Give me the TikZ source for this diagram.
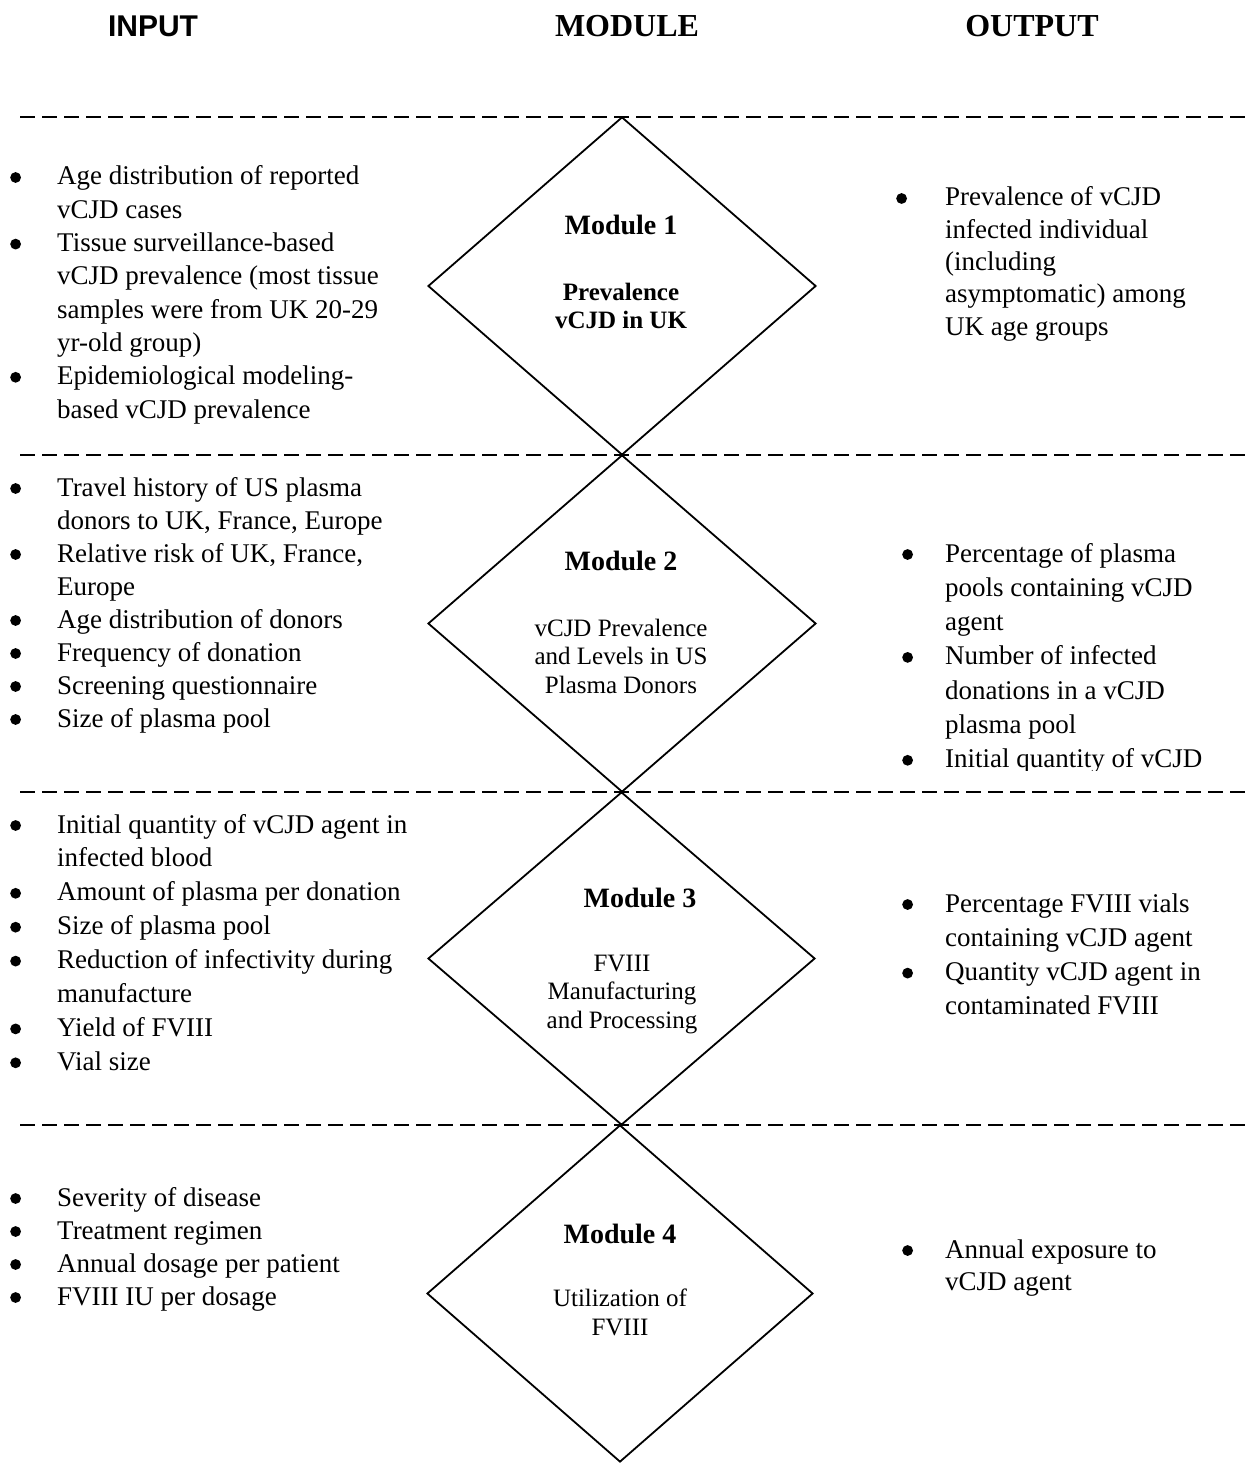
\documentclass[tikz,border=0pt]{standalone}
\usepackage{fontspec}
\setmainfont{Liberation Serif}
\newfontfamily\headsans{Liberation Sans}
\usepackage{array}
\usetikzlibrary{shapes.geometric}
\newcommand{\itm}{\tikz[baseline=-7.5pt]\fill (0,0) circle (5.4pt); &}

\begin{document}
\begin{tikzpicture}[x=1pt, y=-1pt,
    sepline/.style={line width=1.8pt, dash pattern=on 15pt off 7pt},
    module/.style={draw, diamond, line width=1.8pt, inner sep=0pt, minimum width=388pt},
    head/.style={anchor=base, inner sep=0pt, font=\bfseries\fontsize{32}{32}\selectfont},
    modtitle/.style={anchor=base, inner sep=0pt, font=\bfseries\fontsize{28}{28}\selectfont},
    modtext/.style={anchor=base, inner sep=0pt, align=center, font=\fontsize{25}{28.5}\selectfont},
    itemlist/.style={anchor=base west, inner sep=0pt, font=\fontsize{27}{33.3}\selectfont}]
    \useasboundingbox (0,0) rectangle (1246,1463);

    \node [head, font=\headsans\bfseries\fontsize{30}{30}\selectfont] (hin) at (153,37) {INPUT};
    \node [head] (hmod) at (627,37) {MODULE};
    \node [head] (hout) at (1032,37) {OUTPUT};

    \foreach \y in {117,455,792,1125}
      \draw [sepline] (20,\y) -- (1246,\y);

    \node [module, minimum height=338pt] (m1) at (622,286) {};
    \node [module, minimum height=337pt] (m2) at (622,623.5) {};
    \node [module, minimum height=333pt, minimum width=387pt] (m3) at (621.5,958.5) {};
    \node [module, minimum height=337pt, minimum width=386pt] (m4) at (620,1293.5) {};

    % base of a multi-line text = its last line
    \node [modtitle] (t1) at (621,235) {Module 1};
    \node [modtext, font=\bfseries\fontsize{25}{28}\selectfont] (s1) at (621,328) {Prevalence\\vCJD in UK};
    \node [modtitle] (t2) at (621,570) {Module 2};
    \node [modtext] (s2) at (621,693) {vCJD Prevalence\\and Levels in US\\Plasma Donors};
    \node [modtitle] (t3) at (640,907) {Module 3};
    \node [modtext] (s3) at (622,1028) {FVIII\\Manufacturing\\and Processing};
    \node [modtitle] (t4) at (620,1243) {Module 4};
    \node [modtext] (s4) at (620,1335) {Utilization of\\FVIII};

    % inputs
    \node [itemlist] (in1) at (10,185) {\begin{tabular}[t]{@{}p{47pt}@{}l@{}}
      \itm Age distribution of reported\\
      & vCJD cases\\
      \itm Tissue surveillance-based\\
      & vCJD prevalence (most tissue\\
      & samples were from UK 20-29\\
      & yr-old group)\\
      \itm Epidemiological modeling-\\
      & based vCJD prevalence
    \end{tabular}};
    \node [itemlist, font=\fontsize{27}{33}\selectfont] (in2) at (10,496) {\begin{tabular}[t]{@{}p{47pt}@{}l@{}}
      \itm Travel history of US plasma\\
      & donors to UK, France, Europe\\
      \itm Relative risk of UK, France,\\
      & Europe\\
      \itm Age distribution of donors\\
      \itm Frequency of donation\\
      \itm Screening questionnaire\\
      \itm Size of plasma pool
    \end{tabular}};
    \node [itemlist, font=\fontsize{27}{33.9}\selectfont] (in3) at (10,833) {\begin{tabular}[t]{@{}p{47pt}@{}l@{}}
      \itm Initial quantity of vCJD agent in\\
      & infected blood\\
      \itm Amount of plasma per donation\\
      \itm Size of plasma pool\\
      \itm Reduction of infectivity during\\
      & manufacture\\
      \itm Yield of FVIII\\
      \itm Vial size
    \end{tabular}};
    \node [itemlist, font=\fontsize{27}{33}\selectfont] (in4) at (10,1206) {\begin{tabular}[t]{@{}p{47pt}@{}l@{}}
      \itm Severity of disease\\
      \itm Treatment regimen\\
      \itm Annual dosage per patient\\
      \itm FVIII IU per dosage
    \end{tabular}};

    % outputs
    \node [itemlist, font=\fontsize{27}{32.3}\selectfont] (out1) at (896,206) {\begin{tabular}[t]{@{}p{49pt}@{}l@{}}
      \itm Prevalence of vCJD\\
      & infected individual\\
      & (including\\
      & asymptomatic) among\\
      & UK age groups
    \end{tabular}};
    \begin{scope}
      \clip (830,460) rectangle (1246,770);
      \node [itemlist, font=\fontsize{27}{34.3}\selectfont] (out2) at (902,562) {\begin{tabular}[t]{@{}p{43pt}@{}l@{}}
        \itm Percentage of plasma\\
        & pools containing vCJD\\
        & agent\\
        \itm Number of infected\\
        & donations in a vCJD\\
        & plasma pool\\
        \itm Initial quantity of vCJD
      \end{tabular}};
    \end{scope}
    \node [itemlist, font=\fontsize{27}{34.3}\selectfont] (out3) at (902,912) {\begin{tabular}[t]{@{}p{43pt}@{}l@{}}
      \itm Percentage FVIII vials\\
      & containing vCJD agent\\
      \itm Quantity vCJD agent in\\
      & contaminated FVIII
    \end{tabular}};
    \node [itemlist, font=\fontsize{27}{32}\selectfont] (out4) at (902,1258) {\begin{tabular}[t]{@{}p{43pt}@{}l@{}}
      \itm Annual exposure to\\
      & vCJD agent
    \end{tabular}};
\end{tikzpicture}
\end{document}
